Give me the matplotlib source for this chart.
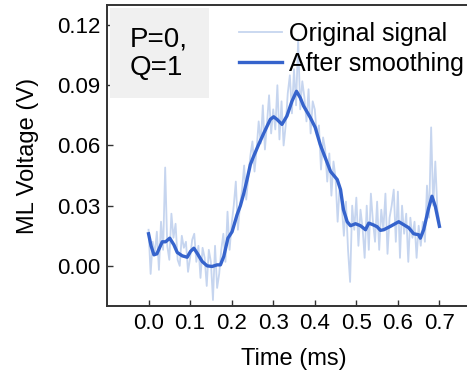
import numpy as np
import matplotlib
matplotlib.use("Agg")
import matplotlib.pyplot as plt
from matplotlib.patches import Rectangle

plt.rcParams['font.family'] = ['Liberation Sans', 'DejaVu Sans']

# raw signal, sampled every 0.005 ms
raw_t = np.arange(141) * 0.005
raw_v = [0.018, -0.004, 0.012, 0.006, 0.017, -0.002, 0.022, 0.008, 0.049, 0.010,
         0.003, 0.026, 0.014, 0.021, 0.003, 0.000, 0.015, 0.009, 0.012, -0.003,
         0.004, 0.013, 0.016, 0.002, 0.010, -0.006, 0.009, 0.004, -0.010, 0.008,
         0.002, -0.017, 0.010, -0.011, -0.004, 0.008, 0.016, 0.002, 0.027, 0.008,
         0.021, 0.030, 0.042, 0.018, 0.030, 0.038, 0.050, 0.033, 0.044, 0.055,
         0.062, 0.047, 0.058, 0.072, 0.061, 0.080, 0.058, 0.071, 0.085, 0.066,
         0.078, 0.068, 0.090, 0.063, 0.082, 0.060, 0.070, 0.086, 0.095, 0.076,
         0.098, 0.080, 0.113, 0.078, 0.092, 0.084, 0.072, 0.088, 0.066, 0.082,
         0.078, 0.065, 0.070, 0.048, 0.064, 0.058, 0.042, 0.056, 0.035, 0.052,
         0.044, 0.022, 0.040, 0.030, 0.015, 0.032, 0.008, -0.008, 0.030, 0.018,
         0.034, 0.010, 0.028, 0.019, 0.004, 0.030, 0.008, 0.036, 0.022, 0.012,
         0.032, 0.008, 0.028, 0.018, 0.036, 0.006, 0.024, 0.030, 0.038, 0.012,
         0.037, 0.004, 0.030, 0.016, 0.026, 0.002, 0.024, 0.014, 0.022, 0.004,
         0.020, 0.010, 0.022, 0.012, 0.040, 0.024, 0.069, 0.030, 0.052, 0.028,
         0.022]

# smoothed curve
sm_t = [0.000, 0.006, 0.013, 0.020, 0.033, 0.041, 0.051, 0.061, 0.069, 0.081,
        0.093, 0.101, 0.109, 0.117, 0.129, 0.141, 0.153, 0.165, 0.173, 0.181,
        0.191, 0.201, 0.213, 0.221, 0.229, 0.237, 0.245, 0.253, 0.265, 0.277,
        0.293, 0.301, 0.309, 0.321, 0.333, 0.345, 0.356, 0.365, 0.373, 0.389,
        0.401, 0.413, 0.425, 0.438, 0.454, 0.462, 0.469, 0.478, 0.486, 0.498,
        0.510, 0.522, 0.530, 0.540, 0.550, 0.558, 0.566, 0.582, 0.602, 0.614,
        0.626, 0.638, 0.650, 0.654, 0.662, 0.674, 0.682, 0.690, 0.700]
sm_v = [0.0160, 0.0100, 0.0055, 0.0060, 0.0120, 0.0120, 0.0138, 0.0105, 0.0067, 0.0050,
        0.0043, 0.0072, 0.0088, 0.0063, 0.0022, 0.0000, -0.0003, 0.0005, 0.0005, 0.0047,
        0.0138, 0.0170, 0.0255, 0.0300, 0.0360, 0.0430, 0.0505, 0.0547, 0.0605, 0.0660,
        0.0730, 0.0743, 0.0730, 0.0705, 0.0747, 0.0820, 0.0870, 0.0838, 0.0797, 0.0740,
        0.0690, 0.0605, 0.0540, 0.0470, 0.0430, 0.0380, 0.0280, 0.0220, 0.0200, 0.0210,
        0.0200, 0.0180, 0.0213, 0.0205, 0.0195, 0.0177, 0.0180, 0.0197, 0.0220, 0.0205,
        0.0190, 0.0160, 0.0155, 0.0138, 0.0180, 0.0288, 0.0347, 0.0297, 0.0197]

x_ticks = [0.0, 0.1, 0.2, 0.3, 0.4, 0.5, 0.6, 0.7]
y_ticks = [0.00, 0.03, 0.06, 0.09, 0.12]

fig = plt.figure(figsize=(4.67, 3.75), dpi=100)
ax = fig.add_axes([0.2291, 0.184, 0.8009, 0.8027])

ax.plot(raw_t, raw_v, color='#c6d5ef', lw=1.3, label='Original signal')
ax.plot(sm_t, sm_v, color='#3563cc', lw=2.4, label='After smoothing')

ax.set_xlim(-0.1, 0.8)
ax.set_ylim(-0.02, 0.13)
ax.set_xticks(x_ticks)
ax.set_xticklabels(['%.1f' % v for v in x_ticks])
ax.set_yticks(y_ticks)
ax.set_yticklabels(['%.2f' % v for v in y_ticks])
ax.tick_params(direction='in', length=4, width=1, color='#333333',
               labelsize=16, pad=5)

for s in ax.spines.values():
    s.set_linewidth(1.4)
    s.set_color('#333333')

ax.set_xlabel('Time (ms)', fontsize=17, labelpad=10)
ax.set_ylabel('ML Voltage (V)', fontsize=17)
ax.yaxis.set_label_coords(-0.183, 0.5)

# grey label box
ax.add_patch(Rectangle((0.008, 0.69), 0.265, 0.30, transform=ax.transAxes,
                       facecolor='#f0f0f0', edgecolor='none', zorder=3))
ax.text(0.06, 0.838, 'P=0,\nQ=1', transform=ax.transAxes, fontsize=20,
        va='center', ha='left', linespacing=1.1, zorder=4)

ax.legend(loc='upper left', bbox_to_anchor=(0.353, 0.945), frameon=False,
          fontsize=18, handlelength=1.7, handletextpad=0.3,
          borderpad=0, borderaxespad=0, labelspacing=0.25)

fig.savefig('out.png', dpi=100)
